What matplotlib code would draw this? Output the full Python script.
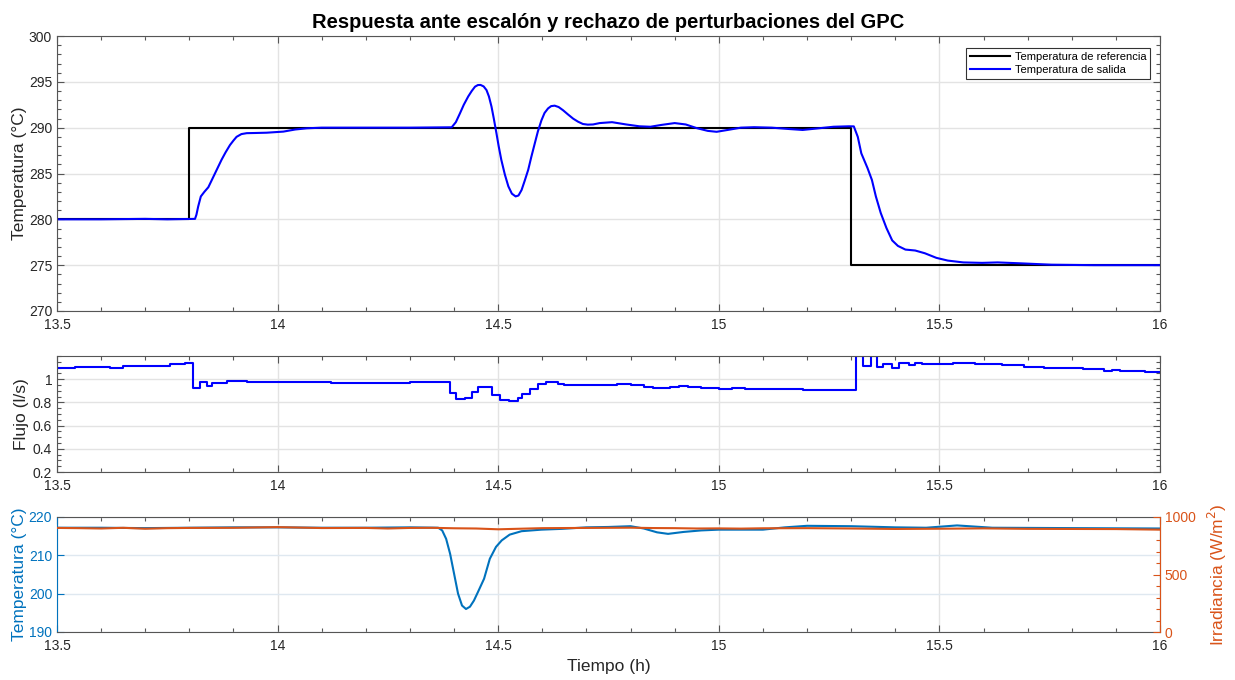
import matplotlib
matplotlib.use("Agg")
import matplotlib.pyplot as plt
from matplotlib.ticker import MultipleLocator, FuncFormatter

plt.rcParams['font.family'] = ['Liberation Sans', 'DejaVu Sans']

# ---- Temperatura de referencia (escalones) ----
ref_t = [13.5, 13.8, 13.8, 15.3, 15.3, 16.0]
ref_T = [280.0, 280.0, 290.0, 290.0, 275.0, 275.0]

# ---- Temperatura de salida ----
out_t = [13.50, 13.60, 13.70, 13.75, 13.8128, 13.816, 13.820, 13.826, 13.834,
         13.843, 13.850, 13.858, 13.866, 13.873, 13.882, 13.892, 13.900,
         13.907, 13.918, 13.930, 13.950, 13.975, 14.013, 14.040, 14.066,
         14.10, 14.20, 14.30, 14.3946, 14.404, 14.4134, 14.422, 14.432,
         14.440, 14.4474, 14.454, 14.460, 14.467, 14.4735, 14.479, 14.4848,
         14.490, 14.496, 14.501, 14.507, 14.515, 14.523, 14.531, 14.5395,
         14.546, 14.553, 14.560, 14.568, 14.575, 14.583, 14.590, 14.598,
         14.605, 14.613, 14.620, 14.628, 14.637, 14.647, 14.658, 14.670,
         14.681, 14.692, 14.703, 14.715, 14.73, 14.758, 14.79, 14.82, 14.845,
         14.87, 14.90, 14.925, 14.95, 14.975, 14.995, 15.02, 15.05, 15.08,
         15.12, 15.16, 15.19, 15.22, 15.26, 15.295, 15.306, 15.315, 15.323,
         15.337, 15.347, 15.356, 15.367, 15.380, 15.393, 15.406, 15.423,
         15.445, 15.467, 15.493, 15.519, 15.554, 15.597, 15.632, 15.684,
         15.754, 15.85, 16.0]
out_T = [280.0, 280.0, 280.05, 280.0, 280.05, 280.5, 281.4, 282.5, 283.0,
         283.5, 284.2, 285.0, 285.8, 286.5, 287.3, 288.1, 288.6,
         289.0, 289.3, 289.4, 289.42, 289.45, 289.57, 289.8, 289.93,
         290.0, 290.0, 290.0, 290.04, 290.6, 291.57, 292.5, 293.4,
         294.0, 294.47, 294.65, 294.66, 294.5, 294.1, 293.4, 292.3,
         291.0, 289.4, 288.0, 286.5, 284.9, 283.6, 282.8, 282.5,
         282.6, 283.2, 284.2, 285.4, 286.8, 288.3, 289.6, 290.8,
         291.6, 292.1, 292.35, 292.4, 292.25, 291.9, 291.45, 290.98,
         290.65, 290.4, 290.33, 290.35, 290.5, 290.6, 290.35, 290.15, 290.1,
         290.3, 290.5, 290.35, 289.95, 289.65, 289.55, 289.75, 290.0, 290.05,
         290.0, 289.85, 289.75, 289.9, 290.1, 290.15, 290.14, 289.0, 287.2,
         285.6, 284.3, 282.5, 280.7, 279.05, 277.7, 277.1, 276.7,
         276.6, 276.3, 275.8, 275.5, 275.3, 275.25, 275.3, 275.2,
         275.05, 275.0, 275.0]

# ---- Flujo (señal de control, mantenida por tramos) ----
flow_t = [13.50, 13.54, 13.58, 13.62, 13.65, 13.69, 13.72, 13.755, 13.79,
          13.808, 13.824, 13.84, 13.852, 13.885, 13.93, 13.99, 14.05, 14.12,
          14.17, 14.21, 14.26, 14.30, 14.34, 14.39, 14.405, 14.425, 14.44,
          14.455, 14.485, 14.505, 14.525, 14.545, 14.555, 14.572, 14.59,
          14.608, 14.635, 14.65, 14.70, 14.74, 14.77, 14.80, 14.83, 14.85,
          14.89, 14.91, 14.93, 14.96, 15.00, 15.03, 15.06, 15.10, 15.15,
          15.19, 15.24, 15.28, 15.3106, 15.327, 15.344, 15.3595, 15.373,
          15.392, 15.408, 15.431, 15.444, 15.46, 15.531, 15.558, 15.58,
          15.607, 15.642, 15.691, 15.736, 15.771, 15.825, 15.874, 15.891,
          15.909, 15.967, 16.0]
flow_q = [1.099, 1.104, 1.108, 1.099, 1.113, 1.116, 1.113, 1.133, 1.136,
          0.922, 0.980, 0.940, 0.965, 0.986, 0.980, 0.974, 0.977, 0.970,
          0.965, 0.970, 0.965, 0.974, 0.977, 0.878, 0.829, 0.838, 0.887,
          0.936, 0.864, 0.820, 0.814, 0.835, 0.870, 0.916, 0.960,
          0.974, 0.962, 0.954, 0.948, 0.954, 0.959, 0.952, 0.935, 0.928,
          0.933, 0.942, 0.930, 0.920, 0.912, 0.925, 0.918, 0.913, 0.912,
          0.908, 0.904, 0.908, 1.200, 1.116, 1.200, 1.104, 1.130,
          1.093, 1.139, 1.125, 1.142, 1.133, 1.136, 1.142, 1.135,
          1.128, 1.119, 1.107, 1.099, 1.093, 1.087, 1.072, 1.078,
          1.067, 1.058, 1.058]

# ---- Temperatura de entrada (perturbación) ----
tin_t = [13.5, 13.6, 13.7, 13.8, 13.9, 14.0, 14.1, 14.2, 14.3, 14.364, 14.373,
         14.382, 14.391, 14.400, 14.409, 14.418, 14.427, 14.436, 14.445,
         14.454, 14.468, 14.481, 14.495, 14.508, 14.526, 14.553, 14.598,
         14.643, 14.70, 14.75, 14.80, 14.83, 14.86, 14.885, 14.92, 14.96,
         15.00, 15.10, 15.15, 15.20, 15.30, 15.40, 15.47, 15.54, 15.62, 15.8,
         16.0]
tin_T = [217.2, 217.2, 217.1, 217.2, 217.3, 217.3, 217.2, 217.2, 217.3, 217.2,
         216.5, 214.3, 210.4, 205.2, 200.0, 196.9, 196.0, 196.6, 198.2,
         200.4, 203.9, 209.1, 212.2, 213.9, 215.4, 216.3, 216.7,
         216.9, 217.3, 217.4, 217.6, 217.0, 216.0, 215.6, 216.1, 216.5,
         216.7, 216.7, 217.3, 217.7, 217.6, 217.3, 217.2, 217.8, 217.2, 217.1,
         217.0]

# ---- Irradiancia ----
irr_t = [13.5, 13.55, 13.6, 13.65, 13.7, 13.75, 13.8, 13.9, 14.0, 14.05,
         14.1, 14.2, 14.25, 14.3, 14.35, 14.4, 14.45, 14.5, 14.55, 14.6, 14.7,
         14.8, 14.85, 14.9, 14.95, 15.0, 15.05, 15.1, 15.2, 15.3, 15.4, 15.5,
         15.6, 15.7, 15.8, 15.9, 16.0]
irr_I = [905, 903, 900, 906, 898, 903, 905, 906, 912, 908,
         904, 905, 900, 905, 906, 902, 900, 893, 898, 903, 905,
         907, 904, 903, 900, 901, 899, 902, 903, 900, 896, 898,
         901, 897, 896, 895, 890]

xticks = [13.5, 14, 14.5, 15, 15.5, 16]

C_AX = '#555555'
C_TXT = '#262626'
C_GRID = '#e3e3e3'
C_BLUE = '#0072BD'
C_ORANGE = '#D95319'

fig = plt.figure(figsize=(12.35, 6.8), dpi=100)
W, H = 1235.0, 680.0
L, R = 57 / W, 1160 / W
ax1 = fig.add_axes([L, (H - 311) / H, R - L, 275 / H])
ax2 = fig.add_axes([L, (H - 472) / H, R - L, 116 / H])
ax3 = fig.add_axes([L, (H - 632) / H, R - L, 115 / H])

fmt = FuncFormatter(lambda v, p: f"{v:g}")


def style(ax, ymin_loc=None):
    ax.set_xlim(13.5, 16)
    ax.set_xticks(xticks)
    ax.xaxis.set_major_formatter(fmt)
    ax.xaxis.set_minor_locator(MultipleLocator(0.1))
    if ymin_loc is not None:
        ax.yaxis.set_minor_locator(MultipleLocator(ymin_loc))
    ax.tick_params(which='both', direction='in', top=True, right=True,
                   colors=C_AX, labelcolor=C_TXT, labelsize=10, width=0.8)
    ax.tick_params(which='major', length=5)
    ax.tick_params(which='minor', length=3)
    ax.tick_params(axis='x', pad=5)
    for s in ax.spines.values():
        s.set_color(C_AX)
        s.set_linewidth(0.8)
    ax.grid(True, which='major', color=C_GRID, linewidth=1.0)
    ax.set_axisbelow(True)


# Panel superior
style(ax1, 1)
ax1.set_ylim(270, 300)
ax1.set_yticks([270, 275, 280, 285, 290, 295, 300])
ax1.plot(ref_t, ref_T, color='black', linewidth=1.5, label='Temperatura de referencia')
ax1.plot(out_t, out_T, color='#0000FF', linewidth=1.5, label='Temperatura de salida')
ax1.set_ylabel('Temperatura (°C)', fontsize=12.5, color=C_TXT, labelpad=1)
ax1.set_title('Respuesta ante escalón y rechazo de perturbaciones del GPC',
              fontsize=14.5, fontweight='bold', color='black', pad=6)
leg = ax1.legend(loc='upper right', bbox_to_anchor=(0.991, 0.956), borderaxespad=0,
                 fontsize=8, frameon=True, fancybox=False, edgecolor='black',
                 handlelength=3.6, labelspacing=0.3, borderpad=0.35, handletextpad=0.4)
leg.get_frame().set_linewidth(0.8)

# Panel de flujo
style(ax2, 0.05)
ax2.set_ylim(0.2, 1.2)
ax2.set_yticks([0.2, 0.4, 0.6, 0.8, 1.0])
ax2.yaxis.set_major_formatter(fmt)
ax2.plot(flow_t, flow_q, color='#0000FF', linewidth=1.5, drawstyle='steps-post')
ax2.set_ylabel('Flujo (l/s)', fontsize=12.5, color=C_TXT, labelpad=3)

# Panel de perturbaciones
style(ax3)
ax3.tick_params(right=False)
ax3.set_ylim(190, 220)
ax3.set_yticks([190, 200, 210, 220])
ax3.tick_params(axis='y', colors=C_BLUE, labelcolor=C_BLUE)
ax3.spines['left'].set_color(C_BLUE)
ax3.yaxis.grid(True, color='#dfe8f0', linewidth=1.0)
ax3.plot(tin_t, tin_T, color=C_BLUE, linewidth=1.5)
ax3.set_ylabel('Temperatura (°C)', fontsize=12.5, color=C_BLUE, labelpad=1)
ax3.set_xlabel('Tiempo (h)', fontsize=12.5, color=C_TXT, labelpad=4)

ax3r = ax3.twinx()
ax3r.set_ylim(0, 1000)
ax3r.set_yticks([0, 500, 1000])
ax3r.yaxis.set_minor_locator(MultipleLocator(100))
ax3r.tick_params(which='both', direction='in', colors=C_ORANGE,
                 labelcolor=C_ORANGE, labelsize=10, width=0.8)
ax3r.tick_params(which='major', length=5)
ax3r.tick_params(which='minor', length=3)
for k, s in ax3r.spines.items():
    s.set_visible(k == 'right')
ax3r.spines['right'].set_color(C_ORANGE)
ax3r.spines['right'].set_linewidth(0.8)
ax3r.plot(irr_t, irr_I, color=C_ORANGE, linewidth=1.5)
ax3r.set_ylabel('Irradiancia (W/m$^2$)', fontsize=12.5, color=C_ORANGE, labelpad=7)

fig.savefig('out.png', dpi=100)
